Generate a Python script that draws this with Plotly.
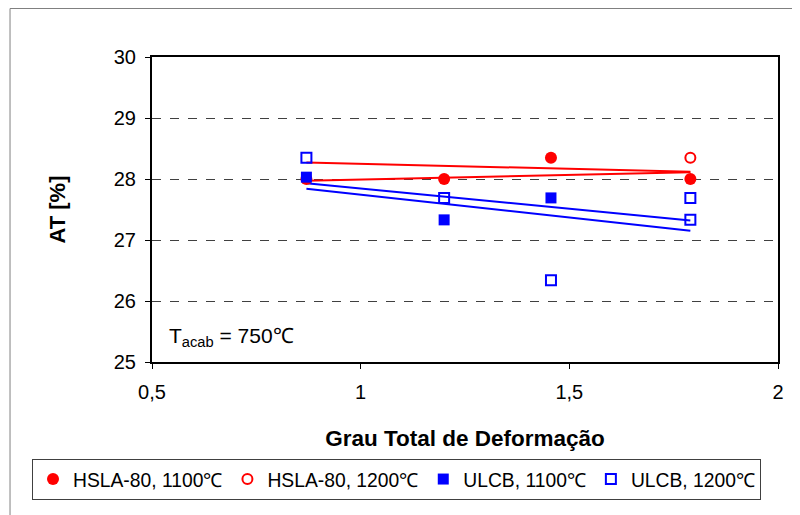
import plotly.graph_objects as go


######## DATA ########

grau_hsla_1100 = [0.87, 1.20, 1.456, 1.79]
at_hsla_1100 = [28.0, 28.0, 28.35, 28.0]

grau_hsla_1200 = [1.79]
at_hsla_1200 = [28.35]

grau_ulcb_1100 = [0.87, 1.20, 1.456]
at_ulcb_1100 = [28.03, 27.33, 27.69]

grau_ulcb_1200 = [0.87, 1.20, 1.456, 1.79, 1.79]
at_ulcb_1200 = [28.35, 27.69, 26.34, 27.69, 27.33]

# trend lines (end points)
trend_x = [0.87, 1.79]
trend_hsla_1100 = [27.97, 28.11]
trend_hsla_1200 = [28.27, 28.12]
trend_ulcb_1100 = [27.93, 27.32]
trend_ulcb_1200 = [27.84, 27.15]

x_tickvals = [0.5, 1, 1.5, 2]
x_ticktext = ['0,5', '1', '1,5', '2']
y_tickvals = [25, 26, 27, 28, 29, 30]


RED = '#ff0000'
BLUE = '#0000ff'
FONT = 'Arial, Liberation Sans, sans-serif'


######## FIGURE ########

fig = go.Figure()

#### trend lines
for y_tr, col in [(trend_hsla_1100, RED), (trend_hsla_1200, RED),
                  (trend_ulcb_1100, BLUE), (trend_ulcb_1200, BLUE)]:
    fig.add_trace(go.Scatter(x=trend_x, y=y_tr, mode='lines', showlegend=False,
                             line=dict(color=col, width=2), hoverinfo='skip'))

#### points
fig.add_trace(go.Scatter(x=grau_hsla_1100, y=at_hsla_1100, mode='markers', name='HSLA-80, 1100℃',
                         marker=dict(symbol='circle', size=12, color=RED)))
fig.add_trace(go.Scatter(x=grau_hsla_1200, y=at_hsla_1200, mode='markers', name='HSLA-80, 1200℃',
                         marker=dict(symbol='circle-open', size=10, color=RED, line=dict(width=2))))
fig.add_trace(go.Scatter(x=grau_ulcb_1100, y=at_ulcb_1100, mode='markers', name='ULCB, 1100℃',
                         marker=dict(symbol='square', size=11, color=BLUE)))
fig.add_trace(go.Scatter(x=grau_ulcb_1200, y=at_ulcb_1200, mode='markers', name='ULCB, 1200℃',
                         marker=dict(symbol='square-open', size=10, color=BLUE, line=dict(width=2))))

#### axes
fig.update_xaxes(range=[0.5, 2], tickvals=x_tickvals, ticktext=x_ticktext,
                 showgrid=False, zeroline=False, automargin=False,
                 showline=True, linecolor='black', linewidth=2, mirror=True,
                 ticks='outside', ticklen=5, tickcolor='black', ticklabelstandoff=6,
                 tickfont=dict(family=FONT, size=20, color='black'),
                 title=dict(text='<b>Grau Total de Deformação</b>', standoff=28,
                            font=dict(family=FONT, size=22.5, color='black')))

fig.update_yaxes(range=[25, 30], tickvals=y_tickvals,
                 showgrid=True, gridcolor='#404040', gridwidth=1, griddash='dash',
                 zeroline=False, automargin=False,
                 showline=True, linecolor='black', linewidth=2, mirror=True,
                 ticks='outside', ticklen=5, tickcolor='black', ticklabelstandoff=5,
                 tickfont=dict(family=FONT, size=20, color='black'),
                 title=dict(text='<b>AT [%]</b>', standoff=42,
                            font=dict(family=FONT, size=22, color='black')))

#### annotation
fig.add_annotation(x=0.024, y=25.41, xref='paper', yref='y', xanchor='left', yanchor='middle',
                   text='T<sub>acab</sub> = 750℃', showarrow=False,
                   font=dict(family=FONT, size=21, color='black'))

#### outer frame (left and top edges visible)
fig.add_shape(type='line', xref='paper', yref='paper', x0=-0.2268, x1=-0.2268, y0=1.159, y1=-0.6,
              line=dict(color='#808080', width=1))
fig.add_shape(type='line', xref='paper', yref='paper', x0=-0.2268, x1=1.1, y0=1.159, y1=1.159,
              line=dict(color='#808080', width=1))

fig.update_layout(
    width=800, height=515,
    margin=dict(l=144, r=30, t=49, b=161, autoexpand=False),
    paper_bgcolor='white', plot_bgcolor='white',
    legend=dict(orientation='h',
                x=(24 - 144) / 626, xanchor='left', y=(354 - 451) / 305, yanchor='top',
                bordercolor='#404040', borderwidth=1, bgcolor='white',
                font=dict(family=FONT, size=19.3, color='black'),
                itemwidth=30, tracegroupgap=0),
)

fig.write_html("out.html")
